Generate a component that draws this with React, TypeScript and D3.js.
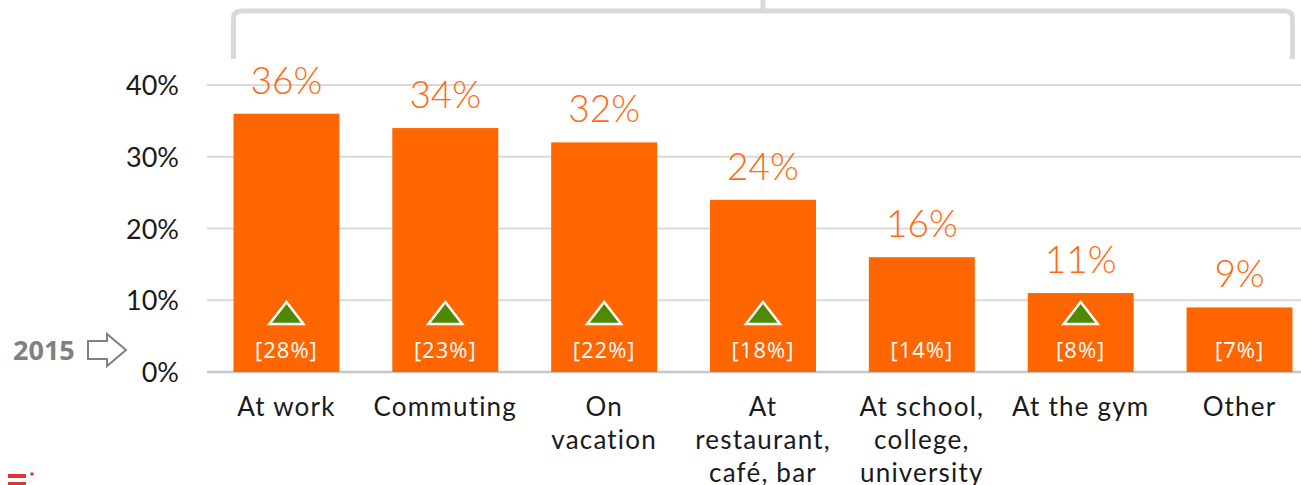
import React from "react";
import * as d3 from "d3";

const categories: string[][] = [
  ["At work"],
  ["Commuting"],
  ["On", "vacation"],
  ["At", "restaurant,", "café, bar"],
  ["At school,", "college,", "university"],
  ["At the gym"],
  ["Other"],
];
const values2016 = [36, 34, 32, 24, 16, 11, 9];
const values2015 = [28, 23, 22, 18, 14, 8, 7];
const increased = [true, true, true, true, false, true, false];
const yTicks = [0, 10, 20, 30, 40];

const W = 1301;
const H = 485;
const ORANGE = "#ff6600";
const GRID = "#d9d9d9";
const FONT = "Lato, 'DejaVu Sans', sans-serif";
const FONT2 = "'Open Sans', 'Liberation Sans', sans-serif";

export default function App() {
  const x = d3
    .scaleBand<number>()
    .domain(d3.range(categories.length))
    .range([207, 1319])
    .paddingInner(0.333)
    .paddingOuter(0.1667);
  const y = d3.scaleLinear().domain([0, 40]).range([372, 85]);

  const bw = x.bandwidth();
  const firstLeft = x(0)!;
  const lastRight = x(categories.length - 1)! + bw;
  const top = 11;
  const bottom = 59;
  const r = 8;
  const midX = 763;
  const bracket = `M${firstLeft},${bottom} L${firstLeft},${top + r} Q${firstLeft},${top} ${firstLeft + r},${top} L${lastRight - r},${top} Q${lastRight},${top} ${lastRight},${top + r} L${lastRight},${bottom}`;

  return (
    <svg
      width={W}
      height={H}
      style={{ position: "absolute", left: 0, top: 0, display: "block" }}
    >
      <rect width={W} height={H} fill="#ffffff" />
      {/* gridlines */}
      {yTicks.map((t) => (
        <line
          key={t}
          x1={207}
          x2={1301}
          y1={y(t)}
          y2={y(t)}
          stroke={t === 0 ? "#c8c8c8" : GRID}
          strokeWidth={t === 0 ? 2.5 : 2}
        />
      ))}
      {/* y tick labels */}
      {yTicks.map((t) => (
        <text
          key={"l" + t}
          x={179}
          y={y(t) + 10}
          textAnchor="end"
          fontFamily={FONT}
          fontSize={27}
          fill="#1a1a1a"
        >
          {t}%
        </text>
      ))}
      {/* bracket */}
      <path d={bracket} fill="none" stroke={GRID} strokeWidth={5} />
      <line x1={midX} x2={midX} y1={0} y2={top} stroke={GRID} strokeWidth={5} />
      {/* bars */}
      {values2016.map((v, i) => (
        <rect
          key={"b" + i}
          x={x(i)!}
          y={y(v)}
          width={bw}
          height={y(0) - y(v)}
          fill={ORANGE}
        />
      ))}
      {/* value labels */}
      {values2016.map((v, i) => (
        <text
          key={"v" + i}
          x={x(i)! + bw / 2}
          y={y(v) - 20}
          textAnchor="middle"
          fontFamily={FONT}
          fontSize={37}
          fill="#ff6a10"
          style={{ fontWeight: 300 }}
        >
          {v}%
        </text>
      ))}
      {/* triangles */}
      {increased.map((inc, i) =>
        inc ? (
          <path
            key={"t" + i}
            d={`M${x(i)! + bw / 2},${302} L${x(i)! + bw / 2 + 17},${324} L${x(i)! + bw / 2 - 17},${324} Z`}
            fill="#4e8a00"
            stroke="#ffffff"
            strokeWidth={2.5}
            strokeLinejoin="miter"
          />
        ) : null
      )}
      {/* 2015 labels */}
      {values2015.map((v, i) => (
        <text
          key={"p" + i}
          x={x(i)! + bw / 2}
          y={358}
          textAnchor="middle"
          fontFamily={FONT2}
          fontSize={22}
          letterSpacing={1}
          fill="#ffffff"
        >
          [{v}%]
        </text>
      ))}
      {/* category labels */}
      {categories.map((lines, i) => (
        <text
          key={"c" + i}
          x={x(i)! + bw / 2}
          y={416}
          textAnchor="middle"
          fontFamily={FONT}
          fontSize={26}
          letterSpacing={1.2}
          fill="#1a1a1a"
        >
          {lines.map((ln, j) => (
            <tspan key={j} x={x(i)! + bw / 2} dy={j === 0 ? 0 : 33}>
              {ln}
            </tspan>
          ))}
        </text>
      ))}
      {/* 2015 marker */}
      <text
        x={13}
        y={360}
        fontFamily={FONT2}
        fontWeight="bold"
        fontSize={27}
        fill="#808080"
      >
        2015
      </text>
      <path
        d="M88,341 L107,341 L107,334 L126,350 L107,366 L107,359 L88,359 Z"
        fill="none"
        stroke="#808080"
        strokeWidth={2}
      />
      {/* logo */}
      <rect x={8} y={474} width={18} height={4} fill="#e03333" />
      <rect x={8} y={482} width={18} height={4} fill="#e03333" />
      <circle cx={32} cy={474} r={1.8} fill="#e03333" />
    </svg>
  );
}
